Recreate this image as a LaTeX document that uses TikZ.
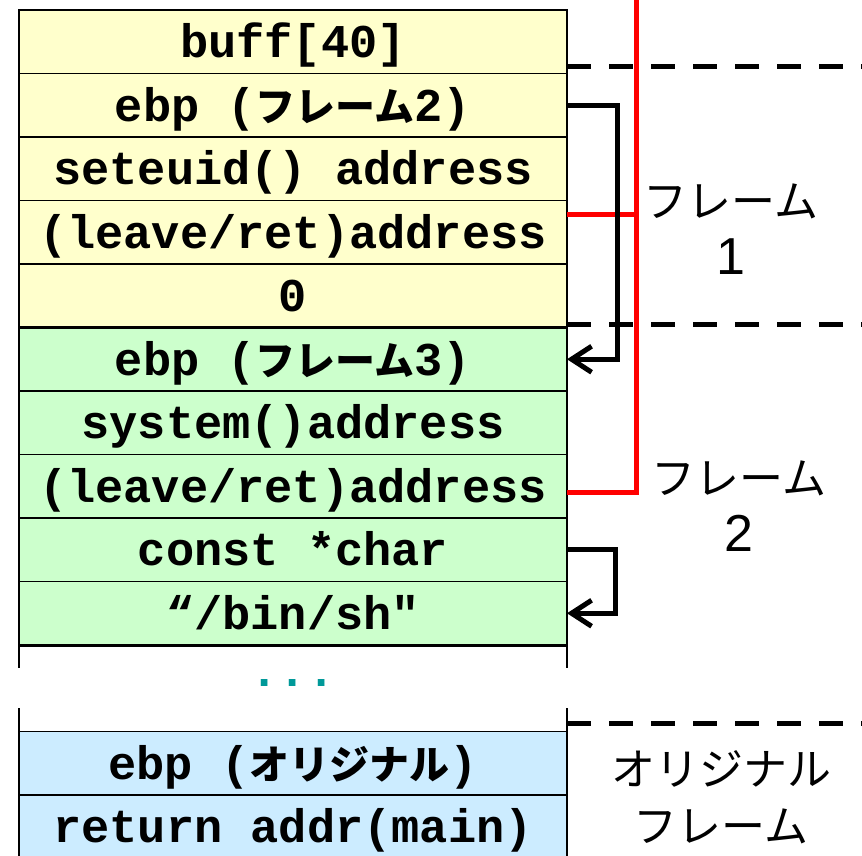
\documentclass[tikz,border=0pt]{standalone}
\usepackage{fontspec}
\setmainfont{Liberation Sans}
\setmonofont{Liberation Mono}
\newfontfamily\jpfont{Noto Sans CJK JP}
\usetikzlibrary{positioning,arrows.meta}
\definecolor{stkyellow}{HTML}{FFFFCC}
\definecolor{stkgreen}{HTML}{CCFFCC}
\definecolor{stkblue}{HTML}{CCECFF}
\definecolor{dotteal}{HTML}{009999}
\newcommand{\kana}[1]{{\jpfont\bfseries\fontsize{40}{42}\selectfont #1}}

\begin{document}
\begin{tikzpicture}[x=1pt,y=-1pt,
    cell/.style={draw,line width=1.5pt,minimum width=548pt,minimum height=63.5pt,inner sep=0pt,outer sep=0pt,
      font=\ttfamily\bfseries\fontsize{47}{50}\selectfont,text height=38pt,text depth=6pt},
    ycell/.style={cell,fill=stkyellow},
    gcell/.style={cell,fill=stkgreen},
    bcell/.style={cell,fill=stkblue},
    ptr/.style={line width=5pt,-{Straight Barb[length=20pt,width=26pt]}},
    retline/.style={line width=5pt,red},
    fsep/.style={line width=5pt,dash pattern=on 24pt off 18pt},
    flabel/.style={align=center,font=\fontsize{44}{57}\selectfont}]
    \useasboundingbox (0,0) rectangle (862,856);
    % frame 1
    \node[ycell] (buff) at (293,41.75) {buff[40]};
    \node[ycell,below=0pt of buff] (ebpa) {ebp (\kana{フレーム}2)};
    \node[ycell,below=0pt of ebpa] (seteuid) {seteuid() address};
    \node[ycell,below=0pt of seteuid] (leavea) {(leave/ret)address};
    \node[ycell,below=0pt of leavea] (zero) {0};
    % frame 2
    \node[gcell,below=0pt of zero] (ebpb) {ebp (\kana{フレーム}3)};
    \node[gcell,below=0pt of ebpb] (system) {system()address};
    \node[gcell,below=0pt of system] (leaveb) {(leave/ret)address};
    \node[gcell,below=0pt of leaveb] (cchar) {const *char};
    \node[gcell,below=0pt of cchar] (binsh) {“/bin/sh"};
    \node[font=\ttfamily\bfseries\fontsize{47}{50}\selectfont,text=dotteal] (dots) at (293,683) {...};
    % original frame
    \node[bcell] (ebporig) at (293,763) {ebp (\kana{オリジナル})};
    \node[bcell,below=0pt of ebporig] (retaddr) {return addr(main)};
    \draw[line width=3pt] (zero.south west) -- (zero.south east);
    \draw[line width=3pt] (binsh.south west) -- (binsh.south east);
    \draw[line width=1.5pt] (binsh.south west) -- ++(0,23) (binsh.south east) -- ++(0,23);
    \draw[line width=1.5pt] (ebporig.north west) -- ++(0,-23) (ebporig.north east) -- ++(0,-23);
    \draw[fsep] (567,67) -- (862,67);
    \draw[fsep] (567,324) -- (862,324);
    \draw[fsep] (567,723) -- (862,723);
    \coordinate (redtop) at (636,0);
    \draw[retline] (redtop) |- ([yshift=-6pt]leaveb.east);
    \draw[retline] ([yshift=18pt]leavea.east) -- ++(69,0);
    \draw[ptr] (ebpa.east) -- ++(50,0) |- (ebpb.east);
    \draw[ptr] (cchar.east) -- ++(48,0) |- (binsh.east);
    \node[flabel] (fone) at (731,229) {{\jpfont フレーム}\\{\fontsize{52}{57}\selectfont 1}};
    \node[flabel] (ftwo) at (739,506) {{\jpfont フレーム}\\{\fontsize{52}{57}\selectfont 2}};
    \node[flabel] (forig) at (721,797) {{\jpfont オリジナル}\\{\jpfont フレーム}};
\end{tikzpicture}
\end{document}
